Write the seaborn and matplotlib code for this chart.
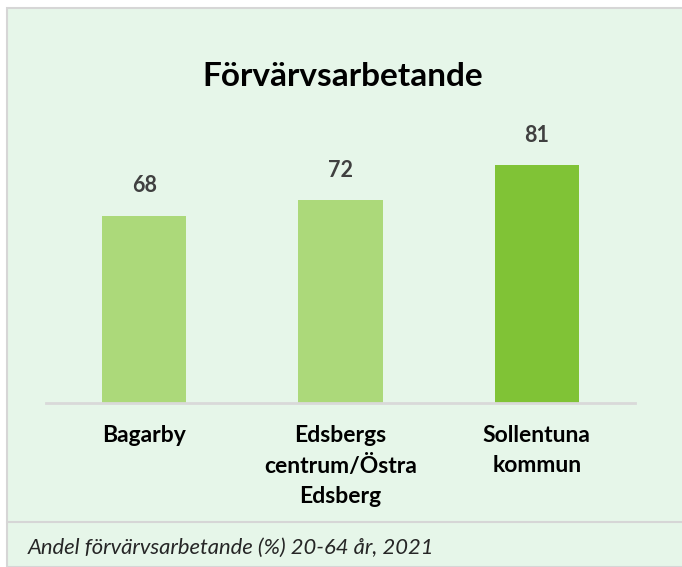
import matplotlib
matplotlib.use("Agg")
import pandas as pd
import seaborn as sns
import matplotlib.pyplot as plt
from matplotlib.patches import Rectangle
from matplotlib.lines import Line2D

# data
areas = ["Bagarby", "Edsbergs\ncentrum/Östra\nEdsberg", "Sollentuna\nkommun"]
share = [68, 72, 81]
bar_colors = ["#acd97a", "#acd97a", "#80c336"]

df = pd.DataFrame({"area": areas, "share": share})

sns.set_theme(style="white")
plt.rcParams["font.family"] = ["Lato", "DejaVu Sans"]

W, H = 682, 567
fig = plt.figure(figsize=(W / 100, H / 100), dpi=100)
fig.patch.set_facecolor("white")

# green panel with thin grey frame, plus the separator above the caption
panel = Rectangle((7 / W, 0), 1 - 7 / W + 0.01, 1 - 8 / H, transform=fig.transFigure,
                  facecolor="#e6f6e9", edgecolor="#d6d6d6", linewidth=1.5, zorder=-5)
fig.patches.append(panel)
fig.lines.append(Line2D([7 / W, 1], [1 - 522 / H, 1 - 522 / H], transform=fig.transFigure,
                        color="#d6d6d6", linewidth=1.5, zorder=-4))

ax = fig.add_axes([46 / W, 1 - 403 / H, 589 / W, (403 - 130) / H])
ax.set_facecolor("none")
sns.barplot(data=df, x="area", y="share", hue="area", palette=bar_colors,
            legend=False, width=0.43, ax=ax, saturation=1, linewidth=0)
ax.set_ylim(20, 90)
ax.set_xlim(-0.5, 2.5)

for c in ax.containers:
    ax.bar_label(c, padding=14, fontsize=15.5, fontweight="bold", color="#404040")

for s in ["top", "right", "left"]:
    ax.spines[s].set_visible(False)
ax.spines["bottom"].set_color("#d9d9d9")
ax.spines["bottom"].set_linewidth(2)
ax.set_yticks([])
ax.set_xlabel("")
ax.set_ylabel("")
ax.tick_params(axis="x", length=0, pad=16)
for lbl in ax.get_xticklabels():
    lbl.set_fontsize(16.5)
    lbl.set_fontweight("bold")
    lbl.set_color("black")
    lbl.set_linespacing(1.5)
    lbl.set_verticalalignment("top")

fig.text(343 / W, 1 - 76 / H, "Förvärvsarbetande", ha="center", va="center",
         fontsize=24, fontweight="bold", color="black")
fig.text(28 / W, 1 - 548 / H, "Andel förvärvsarbetande (%) 20-64 år, 2021", ha="left",
         va="center", fontsize=15.8, fontstyle="italic", color="#262626")

fig.savefig("out.png", dpi=100)
